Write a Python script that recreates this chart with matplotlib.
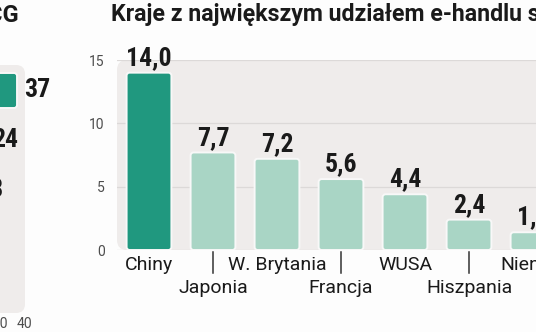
import matplotlib
matplotlib.use("Agg")
import matplotlib.pyplot as plt
from matplotlib.patches import FancyBboxPatch

# ── data ─────────────────────────────────────────────────────────────────────
countries = ["Chiny", "Japonia", "W. Brytania", "Francja", "WUSA", "Hiszpania", "Niemcy"]
shares = [14.0, 7.7, 7.2, 5.6, 4.4, 2.4, 1.4]
yticks = [0, 5, 10, 15]

left_values = [37, 24, 18]
left_xticks = [0, 10, 20, 30, 40]

TITLE_RIGHT = "Kraje z największym udziałem e-handlu s"
TITLE_LEFT = "CG"

# ── style ────────────────────────────────────────────────────────────────────
W, H = 536, 332
DARK = "#20987f"
LIGHT = "#a9d5c5"
PANEL = "#efeceb"
GRID = "#dcd9d8"
TEXT = "#1a1a1a"
TICK = "#4d4d4d"
NARROW = ["Roboto Condensed", "Liberation Sans Narrow", "DejaVu Sans"]
SANS = ["Roboto", "DejaVu Sans"]


def px_rect(left, top, right, bottom):
    """Axes rectangle from pixel edges measured from the top-left corner."""
    return [left / W, 1 - bottom / H, (right - left) / W, (bottom - top) / H]


def rounded_panel(ax, w_px, h_px, radius_px):
    ax.patch.set_visible(False)
    r = radius_px / w_px
    panel = FancyBboxPatch((0, 0), 1, 1, transform=ax.transAxes,
                           boxstyle=f"round,pad=0,rounding_size={r}",
                           mutation_aspect=w_px / h_px,
                           facecolor=PANEL, edgecolor="none", zorder=0,
                           clip_on=False)
    ax.add_patch(panel)


def round_bars(ax, bars, color_list, radius, aspect):
    for rect, col in zip(bars, color_list):
        x, y = rect.get_xy()
        w, h = rect.get_width(), rect.get_height()
        rect.remove()
        ax.add_patch(FancyBboxPatch((x, y), w, h,
                                    boxstyle=f"round,pad=0,rounding_size={radius}",
                                    mutation_aspect=aspect,
                                    facecolor=col, edgecolor="#f8f8f8",
                                    linewidth=1.4, zorder=3))


fig = plt.figure(figsize=(W / 100, H / 100), dpi=100, facecolor="#fdfdfd")

# ── right chart: vertical bars ───────────────────────────────────────────────
r_left, r_right, r_top, r_bottom = 117, 650, 60, 250
ax = fig.add_axes(px_rect(r_left, r_top, r_right, r_bottom))
rounded_panel(ax, r_right - r_left, r_bottom - r_top, 10)

x_per_px = 1 / 64
ax.set_xlim(-0.5, -0.5 + (r_right - r_left) * x_per_px)
ax.set_ylim(0, 15)
y_per_px = 15 / (r_bottom - r_top)

colors = [DARK] + [LIGHT] * (len(shares) - 1)
xs = list(range(len(countries)))
bars = ax.bar(xs, shares, width=0.7, color=colors)
round_bars(ax, bars, colors, 3 * x_per_px, y_per_px / x_per_px)

for x, v in zip(xs, shares):
    ax.annotate(f"{v:.1f}".replace(".", ","), (x, v), xytext=(0, 2),
                textcoords="offset points", ha="center", va="bottom",
                fontsize=18.5, fontweight="bold", fontstretch="condensed",
                family=NARROW, color=TEXT, annotation_clip=False)

# category names on two staggered rows, lower row pointed at with a tick
ax_h = r_bottom - r_top
xt = ax.get_xaxis_transform()
for i, name in enumerate(countries):
    if i % 2 == 0:
        ax.text(i, -15 / ax_h, name, transform=xt, ha="center", va="center",
                fontsize=14, family=SANS, color=TEXT, clip_on=False)
    else:
        ax.plot([i, i], [-2 / ax_h, -23 / ax_h], transform=xt, color="#333333",
                linewidth=1.1, clip_on=False)
        ax.text(i, -38 / ax_h, name, transform=xt, ha="center", va="center",
                fontsize=14, family=SANS, color=TEXT, clip_on=False)

ax.set_yticks(yticks)
ax.set_xticks([])
ax.tick_params(axis="y", length=0, pad=9, labelsize=10, labelcolor=TICK)
for lab in ax.get_yticklabels():
    lab.set_family(SANS)
ax.yaxis.grid(True, color=GRID, linewidth=0.9)
ax.set_axisbelow(True)
for s in ax.spines.values():
    s.set_visible(False)

fig.text(111 / W, 1 - 15 / H, TITLE_RIGHT, ha="left", va="center",
         fontsize=16.7, fontweight="bold", family=SANS, color=TEXT)

# ── left chart: horizontal bars ──────────────────────────────────────────────
l_zero, l_px_unit = -74, 2.46
l_left, l_right, l_top, l_bottom = l_zero, 25, 65, 313
axl = fig.add_axes(px_rect(l_left, l_top, l_right, l_bottom))
rounded_panel(axl, l_right - l_left, l_bottom - l_top, 9)

row_px = 50
axl.set_xlim(0, (l_right - l_left) / l_px_unit)
axl.set_ylim((l_bottom - 90.5) / row_px, (l_top - 90.5) / row_px)

rows = list(range(len(left_values)))
lcolors = [DARK] + [LIGHT] * (len(left_values) - 1)
hb = axl.barh(rows, left_values, height=0.7, color=lcolors)
round_bars(axl, hb, lcolors, 3 / l_px_unit, (1 / row_px) * l_px_unit)
for r, v in zip(rows, left_values):
    axl.annotate(f"{v}", (v, r), xytext=(5, 0), textcoords="offset points",
                 ha="left", va="center", fontsize=18.5, fontweight="bold",
                 fontstretch="condensed", family=NARROW, color=TEXT,
                 annotation_clip=False)

axl.set_xticks(left_xticks)
axl.set_yticks([])
axl.tick_params(axis="x", length=0, pad=3, labelsize=10, labelcolor=TICK)
for lab in axl.get_xticklabels():
    lab.set_family(SANS)
for s in axl.spines.values():
    s.set_visible(False)

fig.text(19 / W, 1 - 15 / H, TITLE_LEFT, ha="right", va="center",
         fontsize=17, fontweight="bold", family=SANS, color=TEXT)

fig.savefig("out.png", dpi=100, facecolor=fig.get_facecolor())
